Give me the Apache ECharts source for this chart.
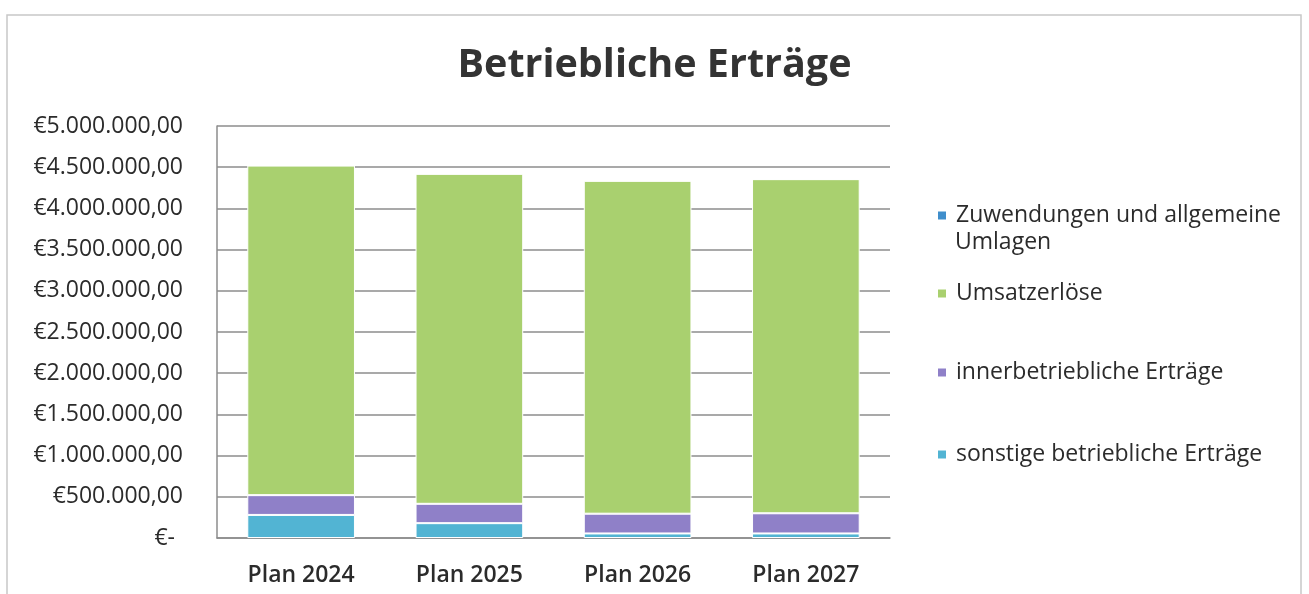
<!DOCTYPE html>
<html>
<head>
<meta charset="utf-8">
<title>Betriebliche Erträge</title>
<script src="https://cdn.jsdelivr.net/npm/echarts@6/dist/echarts.min.js"></script>
<style>
  html, body { margin: 0; padding: 0; background: #fff; }
  #chart { width: 1309px; height: 594px; }
</style>
</head>
<body>
<div id="chart"></div>
<script>
// Kategorien und Werte
const categories = ['Plan 2024', 'Plan 2025', 'Plan 2026', 'Plan 2027'];
const seriesNames = ['sonstige betriebliche Erträge', 'innerbetriebliche Erträge', 'Umsatzerlöse', 'Zuwendungen und allgemeine Umlagen'];
const sonstige = [280000, 180000, 55000, 55000];
const innerbetrieblich = [240000, 235000, 240000, 245000];
const umsatz = [4000000, 4005000, 4040000, 4055000];
const zuwendungen = [0, 0, 0, 0];
const colors = ['#52b4d3', '#8f80c8', '#a9d06f', '#3f8ecb'];

const font = '"Open Sans", Lato, sans-serif';
const textColor = '#2b2b2b';
const chart = echarts.init(document.getElementById('chart'));

// Zahlenformat wie im Excel-Buchhaltungsformat
const fmt = (v) => {
  if (v === 0) return '{z|€-}';
  let s = Math.round(v).toString().replace(/\B(?=(\d{3})+(?!\d))/g, '.');
  return '€' + s + ',00';
};

const allData = [sonstige, innerbetrieblich, umsatz, zuwendungen];
const series = allData.map((d, i) => ({
  name: seriesNames[i],
  type: 'bar',
  stack: 'total',
  barWidth: '64%',
  itemStyle: { color: colors[i], borderColor: '#fff', borderWidth: 1 },
  data: d,
}));

// Legende: jede Zeile einzeln platziert (wie Excel)
const legendTops = [199, 277, 356, 438];
const legendOrder = [3, 2, 1, 0];
const legends = legendOrder.map((si, k) => ({
  data: [seriesNames[si]],
  left: 931,
  top: legendTops[k],
  icon: 'rect',
  itemWidth: 10,
  itemHeight: 10,
  itemGap: 0,
  selectedMode: false,
  formatter: (n) => n === 'Zuwendungen und allgemeine Umlagen' ? 'Zuwendungen und allgemeine' : n,
  textStyle: { fontFamily: font, fontSize: 23, color: textColor, padding: [0, 0, 0, 4] },
}));

chart.setOption({
  animation: false,
  color: colors,
  title: {
    text: 'Betriebliche Erträge',
    left: 'center',
    top: 41,
    textStyle: { fontFamily: font, fontSize: 39.5, fontWeight: 'bold', color: '#333' },
  },
  graphic: [
    {
      type: 'rect',
      shape: { x: 7, y: 15, width: 1294, height: 600 },
      style: { fill: 'none', stroke: '#c8c8c8', lineWidth: 1.5 },
      silent: true,
    },
    {
      type: 'text',
      left: 955,
      top: 231,
      style: { text: 'Umlagen', fontFamily: font, fontSize: 23, fill: textColor },
    },
  ],
  legend: legends,
  grid: { left: 217, right: 419, top: 126, bottom: 56 },
  xAxis: {
    type: 'category',
    data: categories,
    axisTick: { show: false },
    axisLine: { lineStyle: { color: '#8c8c8c', width: 1.5 } },
    axisLabel: { fontFamily: font, fontSize: 23, fontWeight: 600, color: textColor, margin: 26 },
  },
  yAxis: {
    type: 'value',
    min: 0,
    max: 5000000,
    interval: 500000,
    axisLine: { show: true, lineStyle: { color: '#8c8c8c', width: 1.5 } },
    axisTick: { show: false },
    splitLine: { lineStyle: { color: '#8c8c8c', width: 1.5 } },
    axisLabel: {
      fontFamily: font,
      fontSize: 23,
      color: textColor,
      margin: 34,
      formatter: fmt,
      rich: { z: { fontFamily: font, fontSize: 23, color: textColor, padding: [0, 8, 0, 0] } },
    },
  },
  series: series,
});
</script>
</body>
</html>
